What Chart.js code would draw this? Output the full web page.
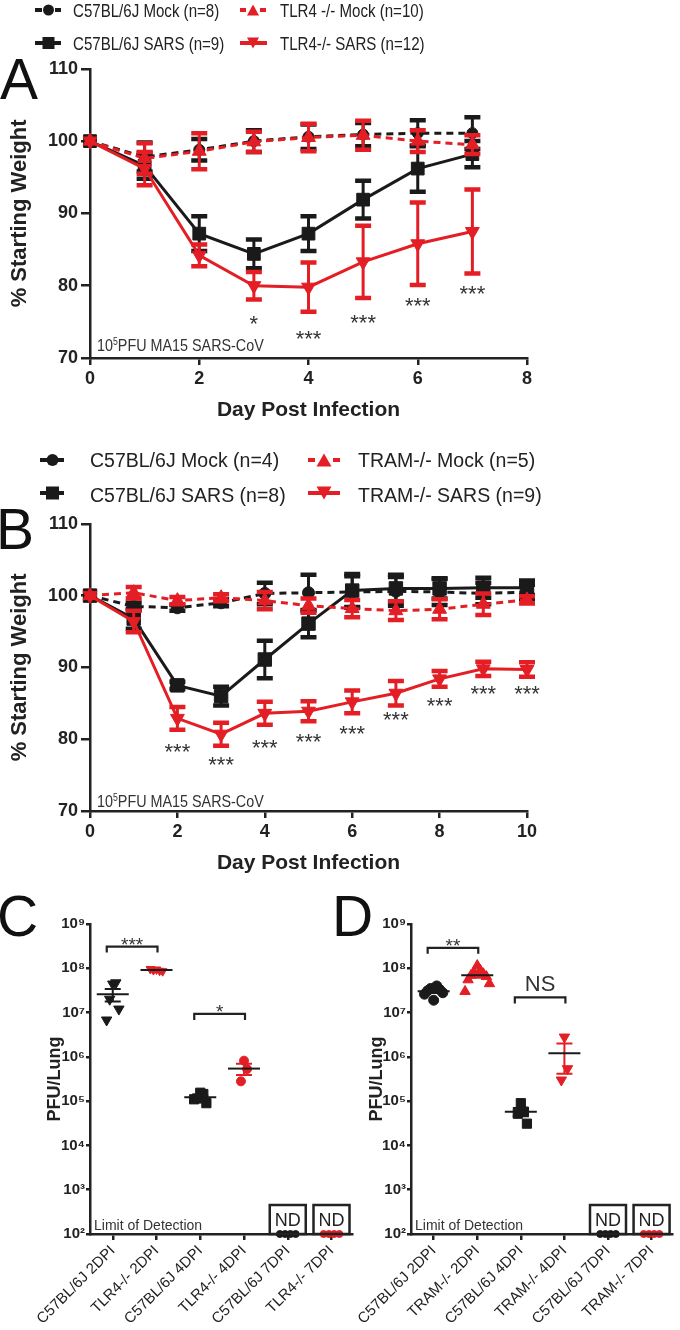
<!DOCTYPE html>
<html lang="en">
<head>
<meta charset="UTF-8">
<title>SARS-CoV weight loss and lung titer</title>
<script src="https://cdn.jsdelivr.net/npm/chart.js"></script>
<style>
  body { margin: 0; background: #fff; font-family: "Liberation Sans", Arial, sans-serif; color: #222; }
  #page { position: relative; width: 680px; height: 1330px; overflow: hidden; }
  canvas { position: absolute; }
  .txt { position: absolute; white-space: nowrap; }
  .legA { font-size: 18.5px; line-height: 20px; transform: scaleX(.815); transform-origin: 0 50%; }
  .legB { font-size: 19.5px; line-height: 20px; }
  .letter { font-size: 57px; line-height: 57px; color: #111; }
  .virus { font-size: 16.5px; line-height: 18px; transform: scaleX(.87); transform-origin: 0 50%; color: #333; }
  .virus sup { font-size: 10px; vertical-align: 6px; line-height: 0; }
  svg { position: absolute; left: 0; top: 0; }
</style>
</head>
<body>
<div id="page">
  <canvas id="chartA" width="580" height="375" style="left:0;top:55px"></canvas>
  <canvas id="chartB" width="580" height="373" style="left:0;top:510px"></canvas>
  <canvas id="chartC" width="360" height="430" style="left:0;top:900px"></canvas>
  <canvas id="chartD" width="350" height="430" style="left:330px;top:900px"></canvas>

  <!-- legend symbols -->
  <svg width="680" height="520">
    <g stroke="#1a1a1a" stroke-width="4">
      <line x1="35" y1="10" x2="42" y2="10"/><line x1="55" y1="10" x2="61" y2="10"/>
      <line x1="35" y1="43" x2="61" y2="43"/>
      <line x1="40" y1="460" x2="47" y2="460"/><line x1="58" y1="460" x2="64" y2="460"/>
      <line x1="40" y1="493" x2="64" y2="493"/>
    </g>
    <circle cx="48.5" cy="10" r="5.5" fill="#1a1a1a"/>
    <rect x="42.5" y="37" width="12" height="12" fill="#1a1a1a"/>
    <circle cx="52.5" cy="460" r="6" fill="#1a1a1a"/>
    <rect x="46" y="486.5" width="13" height="13" fill="#1a1a1a"/>
    <g stroke="#e31e24" stroke-width="4">
      <line x1="240" y1="10" x2="246" y2="10"/><line x1="260" y1="10" x2="266" y2="10"/>
      <line x1="240" y1="43" x2="267" y2="43"/>
      <line x1="308" y1="460" x2="315" y2="460"/><line x1="333" y1="460" x2="340" y2="460"/>
      <line x1="308" y1="493" x2="340" y2="493"/>
    </g>
    <g fill="#e31e24">
      <polygon points="247,15.5 259,15.5 253,4.5"/>
      <polygon points="247,37.5 259,37.5 253,48.5"/>
      <polygon points="316.5,466.5 331.5,466.5 324,453.5"/>
      <polygon points="316.5,486.5 331.5,486.5 324,499.5"/>
    </g>
  </svg>

  <div class="txt legA" style="left:73px;top:1px">C57BL/6J Mock (n=8)</div>
  <div class="txt legA" style="left:280px;top:1px">TLR4 -/- Mock (n=10)</div>
  <div class="txt legA" style="left:73px;top:34px">C57BL/6J SARS (n=9)</div>
  <div class="txt legA" style="left:280px;top:34px">TLR4-/- SARS (n=12)</div>

  <div class="txt legB" style="left:90px;top:450px">C57BL/6J Mock (n=4)</div>
  <div class="txt legB" style="left:358px;top:450px">TRAM-/- Mock (n=5)</div>
  <div class="txt legB" style="left:90px;top:485px">C57BL/6J SARS (n=8)</div>
  <div class="txt legB" style="left:358px;top:485px">TRAM-/- SARS (n=9)</div>

  <div class="txt letter" style="left:0;top:51px">A</div>
  <div class="txt letter" style="left:-4px;top:501px">B</div>
  <div class="txt letter" style="left:-3px;top:888px">C</div>
  <div class="txt letter" style="left:332px;top:888px">D</div>

  <div class="txt virus" style="left:97px;top:336px">10<sup>5</sup>PFU MA15 SARS-CoV</div>
  <div class="txt virus" style="left:97px;top:792px">10<sup>5</sup>PFU MA15 SARS-CoV</div>
</div>

<script>
  Chart.defaults.font.family = "'Liberation Sans', Arial, sans-serif";
  Chart.defaults.color = '#222';
  const RED = '#e31e24', BLACK = '#1a1a1a', AXIS = '#222';

  // ---- panel A: TLR4-/- weight loss ----
  const daysA = [0, 1, 2, 3, 4, 5, 6, 7];
  const dayTicksA = [0, 2, 4, 6, 8];
  const wtMockA = [100, 97.8, 98.8, 100.0, 100.6, 100.9, 101.1, 101.1];
  const wtMockErrA = [0, 2.0, 1.5, 1.5, 1.7, 1.6, 1.8, 2.2];
  const koMockA = [100, 97.6, 98.6, 99.9, 100.5, 100.8, 100.0, 99.5];
  const koMockErrA = [0, 2.1, 2.5, 1.4, 1.9, 2.0, 1.5, 1.3];
  const wtSarsA = [100, 96.6, 87.2, 84.4, 87.2, 91.9, 96.2, 98.2];
  const wtSarsErrA = [0, 1.8, 2.4, 2.0, 2.4, 2.6, 3.2, 1.8];
  const koSarsA = [100, 96.2, 84.2, 80.0, 79.8, 83.3, 85.8, 87.5];
  const koSarsErrA = [0, 2.3, 1.5, 1.9, 3.4, 5.0, 5.7, 5.8];
  const sigDaysA = [3, 4, 5, 6, 7];
  const sigTextA = ['*', '***', '***', '***', '***'];
  const sigYA = [75.2, 73.2, 75.4, 77.7, 79.4];

  // ---- panel B: TRAM-/- weight loss ----
  const daysB = [0, 1, 2, 3, 4, 5, 6, 7, 8, 9, 10];
  const dayTicksB = [0, 2, 4, 6, 8, 10];
  const wtMockB = [100, 98.5, 98.3, 99.0, 100.3, 100.4, 100.5, 100.6, 100.5, 100.3, 100.5];
  const wtMockErrB = [0, 0.5, 0.4, 0.5, 1.5, 2.5, 2.2, 2.0, 1.8, 1.5, 1.0];
  const koMockB = [100, 100.4, 99.3, 99.7, 99.3, 98.6, 98.2, 97.9, 98.1, 98.8, 99.4];
  const koMockErrB = [0, 0.8, 0.5, 0.5, 1.2, 1.0, 1.2, 1.3, 1.4, 1.5, 0.5];
  const wtSarsB = [100, 96.8, 87.5, 86.0, 91.1, 96.1, 100.7, 101.0, 101.0, 101.1, 101.1];
  const wtSarsErrB = [0, 1.4, 0.5, 1.3, 2.6, 1.9, 2.3, 1.9, 1.4, 1.4, 1.0];
  const koSarsB = [100, 96.4, 82.9, 80.7, 83.6, 83.9, 85.2, 86.4, 88.4, 89.8, 89.7];
  const koSarsErrB = [0, 1.5, 1.6, 1.6, 1.6, 1.4, 1.6, 1.7, 1.1, 1.0, 1.0];
  const sigDaysB = [2, 3, 4, 5, 6, 7, 8, 9, 10];
  const sigTextB = ['***', '***', '***', '***', '***', '***', '***', '***', '***'];
  const sigYB = [78.8, 77.0, 79.3, 80.1, 81.2, 83.2, 85.2, 86.9, 86.9];

  const weightTicks = [70, 80, 90, 100, 110];

  // ---- panel C: TLR4-/- lung titer ----
  const catsC = ['C57BL/6J 2DPI', 'TLR4-/- 2DPI', 'C57BL/6J 4DPI', 'TLR4-/- 4DPI', 'C57BL/6J 7DPI', 'TLR4-/- 7DPI'];
  const wt2C = [4.4e7, 4.7e7, 2.0e7, 1.2e7, 6.8e6];
  const ko2C = [9.4e7, 8.8e7, 9.1e7, 8.6e7, 9.6e7];
  const wt4C = [1.55e5, 1.45e5, 1.15e5, 9.0e4, 1.1e5];
  const ko4C = [8.2e5, 5.3e5, 2.8e5];
  const wt7C = [100, 100, 100, 100];
  const ko7C = [100, 100, 100, 100];
  const brFromC = [1, 3], brToC = [2, 4], brYC = [3.1e8, 9.3e6], brTextC = ['***', '*'];

  // ---- panel D: TRAM-/- lung titer ----
  const catsD = ['C57BL/6J 2DPI', 'TRAM-/- 2DPI', 'C57BL/6J 4DPI', 'TRAM-/- 4DPI', 'C57BL/6J 7DPI', 'TRAM-/- 7DPI'];
  const wt2D = [1.9e7, 4.0e7, 3.5e7, 3.3e7, 3.1e7, 2.8e7, 2.6e7];
  const ko2D = [1.15e8, 9.0e7, 8.0e7, 7.5e7, 7.0e7, 6.5e7, 5.5e7, 4.5e7, 3.0e7];
  const wt4D = [9.0e4, 5.8e4, 5.2e4, 3.1e4];
  const ko4D = [2.8e6, 5.4e5, 3.0e5];
  const wt7D = [100, 100, 100, 100];
  const ko7D = [100, 100, 100, 100];
  const brFromD = [1, 3], brToD = [2, 4], brYD = [2.9e8, 2.2e7], brTextD = ['**', 'NS'];

  const titerTicks = [1e2, 1e3, 1e4, 1e5, 1e6, 1e7, 1e8, 1e9];
  const titerLabels = ['10²', '10³', '10⁴', '10⁵', '10⁶', '10⁷', '10⁸', '10⁹'];
  const ndCats = [5, 6];

  // asterisks sit high in the em box, shift so the glyph centre lands on y
  function star(ctx, text, x, y, size) {
    ctx.font = size + "px 'Liberation Sans', Arial";
    ctx.textAlign = 'center';
    ctx.textBaseline = 'middle';
    ctx.fillText(text, x, y + (text === 'NS' ? 0 : 0.22 * size));
  }

  const errorBars = {
    id: 'errorBars',
    beforeDatasetDraw(chart, args) {
      const ds = chart.data.datasets[args.index];
      if (!ds.err) return;
      const y = chart.scales.y, ctx = chart.ctx;
      ctx.save();
      ctx.setLineDash([]);
      ctx.strokeStyle = ds.borderColor;
      args.meta.data.forEach((pt, i) => {
        const e = ds.err[i];
        if (!e) return;
        const v = ds.data[i].y;
        const top = y.getPixelForValue(v + e), bot = y.getPixelForValue(v - e);
        ctx.lineWidth = 3;
        ctx.beginPath(); ctx.moveTo(pt.x, top); ctx.lineTo(pt.x, bot); ctx.stroke();
        ctx.lineWidth = 4.5;
        ctx.beginPath();
        ctx.moveTo(pt.x - 8, top); ctx.lineTo(pt.x + 8, top);
        ctx.moveTo(pt.x - 8, bot); ctx.lineTo(pt.x + 8, bot);
        ctx.stroke();
      });
      ctx.restore();
    }
  };

  const sigMarks = {
    id: 'sigMarks',
    afterDatasetsDraw(chart, args, opts) {
      if (!opts.days) return;
      const {ctx, scales: {x, y}} = chart;
      ctx.save();
      ctx.fillStyle = '#333';
      opts.days.forEach((d, i) => star(ctx, opts.text[i], x.getPixelForValue(d), y.getPixelForValue(opts.y[i]), 22));
      ctx.restore();
    }
  };

  function weightChart(id, days, dayTicks, series, sig) {
    return new Chart(document.getElementById(id), {
      type: 'line',
      data: {
        datasets: series.map(s => ({
          label: s.label,
          data: days.map((d, i) => ({x: d, y: s.values[i]})),
          err: s.err,
          borderColor: s.color,
          backgroundColor: s.color,
          borderWidth: 3,
          borderDash: s.dash ? [7, 5] : [],
          pointStyle: s.marker,
          pointRadius: s.r,
          pointRotation: s.rot || 0,
          pointBackgroundColor: s.color,
          pointBorderColor: s.color,
          pointBorderWidth: 1,
          tension: 0,
          clip: false
        }))
      },
      options: {
        responsive: false,
        animation: false,
        layout: {padding: {top: 12, right: 53, bottom: 0, left: 0}},
        plugins: {legend: {display: false}, tooltip: {enabled: false}, sigMarks: sig},
        scales: {
          x: {
            type: 'linear', min: dayTicks[0], max: dayTicks[dayTicks.length - 1],
            afterBuildTicks: s => { s.ticks = dayTicks.map(v => ({value: v})); },
            afterFit: s => { s.height = 72; },
            ticks: {font: {weight: 'bold', size: 18}, color: AXIS, padding: 3},
            grid: {drawOnChartArea: false, color: AXIS, lineWidth: 2.5, tickLength: 7},
            border: {color: AXIS, width: 2.5},
            title: {display: true, text: 'Day Post Infection', color: AXIS,
                    font: {weight: 'bold', size: 21}, padding: {top: 0, bottom: 7}}
          },
          y: {
            min: 70, max: 110,
            afterBuildTicks: s => { s.ticks = weightTicks.map(v => ({value: v})); },
            afterFit: s => { s.width = 90; },
            ticks: {font: {weight: 'bold', size: 18}, color: AXIS, padding: 3},
            grid: {drawOnChartArea: false, color: AXIS, lineWidth: 2.5, tickLength: 9},
            border: {color: AXIS, width: 2.5},
            title: {display: true, text: '% Starting Weight', color: AXIS,
                    font: {weight: 'bold', size: 22}, padding: {top: 7, bottom: 0}}
          }
        }
      },
      plugins: [errorBars, sigMarks]
    });
  }

  weightChart('chartA', daysA, dayTicksA, [
    {label: 'TLR4-/- SARS (n=12)', values: koSarsA, err: koSarsErrA, color: RED, marker: 'triangle', rot: 180, r: 8},
    {label: 'TLR4 -/- Mock (n=10)', values: koMockA, err: koMockErrA, color: RED, dash: true, marker: 'triangle', r: 8},
    {label: 'C57BL/6J SARS (n=9)', values: wtSarsA, err: wtSarsErrA, color: BLACK, marker: 'rect', r: 9},
    {label: 'C57BL/6J Mock (n=8)', values: wtMockA, err: wtMockErrA, color: BLACK, dash: true, marker: 'circle', r: 5.5}
  ], {days: sigDaysA, text: sigTextA, y: sigYA});

  weightChart('chartB', daysB, dayTicksB, [
    {label: 'TRAM-/- SARS (n=9)', values: koSarsB, err: koSarsErrB, color: RED, marker: 'triangle', rot: 180, r: 8},
    {label: 'TRAM-/- Mock (n=5)', values: koMockB, err: koMockErrB, color: RED, dash: true, marker: 'triangle', r: 8},
    {label: 'C57BL/6J SARS (n=8)', values: wtSarsB, err: wtSarsErrB, color: BLACK, marker: 'rect', r: 9.5},
    {label: 'C57BL/6J Mock (n=4)', values: wtMockB, err: wtMockErrB, color: BLACK, dash: true, marker: 'circle', r: 6}
  ], {days: sigDaysB, text: sigTextB, y: sigYB});

  // mean line (black) and SEM whiskers (group colour) over each scatter column
  const meanSem = {
    id: 'meanSem',
    afterDatasetsDraw(chart) {
      const {ctx, scales: {x, y}} = chart;
      ctx.save();
      chart.data.datasets.forEach(ds => {
        if (!ds.stats) return;
        const v = ds.data.map(p => p.y), n = v.length;
        const mean = v.reduce((a, b) => a + b, 0) / n;
        const sd = Math.sqrt(v.reduce((a, b) => a + (b - mean) ** 2, 0) / (n - 1));
        const sem = sd / Math.sqrt(n);
        const cx = x.getPixelForValue(ds.cat);
        const pm = y.getPixelForValue(mean), pt = y.getPixelForValue(mean + sem), pb = y.getPixelForValue(mean - sem);
        ctx.strokeStyle = ds.color; ctx.lineWidth = 2;
        ctx.beginPath();
        ctx.moveTo(cx, pt); ctx.lineTo(cx, pb);
        ctx.moveTo(cx - 8, pt); ctx.lineTo(cx + 8, pt);
        ctx.moveTo(cx - 8, pb); ctx.lineTo(cx + 8, pb);
        ctx.stroke();
        ctx.strokeStyle = BLACK; ctx.lineWidth = 2;
        ctx.beginPath(); ctx.moveTo(cx - 16, pm); ctx.lineTo(cx + 16, pm); ctx.stroke();
      });
      ctx.restore();
    }
  };

  const lungMarks = {
    id: 'lungMarks',
    afterDatasetsDraw(chart, args, opts) {
      const {ctx, chartArea, scales: {x, y}} = chart;
      ctx.save();
      // significance brackets
      ctx.strokeStyle = AXIS; ctx.fillStyle = '#333'; ctx.lineWidth = 2.2;
      opts.from.forEach((f, i) => {
        const x1 = x.getPixelForValue(f) - 6, x2 = x.getPixelForValue(opts.to[i]) + 1;
        const py = y.getPixelForValue(opts.y[i]);
        ctx.beginPath();
        ctx.moveTo(x1, py + 6); ctx.lineTo(x1, py); ctx.lineTo(x2, py); ctx.lineTo(x2, py + 6);
        ctx.stroke();
        if (opts.text[i] === 'NS') star(ctx, 'NS', (x1 + x2) / 2, py - 12, 22);
        else star(ctx, opts.text[i], (x1 + x2) / 2, py - 5, 19);
      });
      // not-detected boxes
      ctx.lineWidth = 2.5; ctx.fillStyle = AXIS;
      ndCats.forEach(c => {
        const cx = x.getPixelForValue(c), b = chartArea.bottom;
        ctx.strokeRect(cx - 18, b - 29, 36, 29);
        ctx.font = "18px 'Liberation Sans', Arial";
        ctx.textAlign = 'center'; ctx.textBaseline = 'middle';
        ctx.fillText('ND', cx, b - 13);
      });
      ctx.font = "14px 'Liberation Sans', Arial";
      ctx.fillStyle = '#333'; ctx.textAlign = 'left'; ctx.textBaseline = 'alphabetic';
      ctx.fillText('Limit of Detection', chartArea.left + 4, chartArea.bottom - 4);
      ctx.restore();
    }
  };

  function spread(j, n, nd) {
    if (nd) return (j - (n - 1) / 2) * 0.12;
    return Math.ceil(j / 2) * (j % 2 ? 1 : -1) * 0.07;
  }

  function lungChart(id, cats, groups, br, yW, titlePad, xMin, padRight) {
    return new Chart(document.getElementById(id), {
      type: 'scatter',
      data: {
        datasets: groups.map((g, k) => ({
          data: g.values.map((v, j) => ({x: k + 1 + spread(j, g.values.length, g.nd), y: v})),
          cat: k + 1,
          stats: !g.nd,
          color: g.color,
          pointStyle: g.marker,
          pointRotation: g.rot || 0,
          pointRadius: g.r,
          pointBackgroundColor: g.color,
          pointBorderColor: g.color,
          pointBorderWidth: 1,
          clip: false
        }))
      },
      options: {
        responsive: false,
        animation: false,
        layout: {padding: {top: 24, right: padRight, bottom: 0, left: 0}},
        plugins: {legend: {display: false}, tooltip: {enabled: false}, lungMarks: br},
        scales: {
          x: {
            type: 'linear', min: xMin, max: xMin + 6,
            afterBuildTicks: s => { s.ticks = cats.map((c, i) => ({value: i + 1})); },
            afterFit: s => { s.height = 96; },
            ticks: {callback: v => cats[Math.round(v) - 1], autoSkip: false, minRotation: 45, maxRotation: 45,
                    font: {size: 15}, color: AXIS, padding: 2},
            grid: {drawOnChartArea: false, color: AXIS, lineWidth: 2.5, tickLength: 6},
            border: {color: AXIS, width: 2.5}
          },
          y: {
            type: 'logarithmic', min: 1e2, max: 1e9,
            afterBuildTicks: s => { s.ticks = titerTicks.map(v => ({value: v})); },
            afterFit: s => { s.width = yW; },
            ticks: {callback: v => titerLabels[titerTicks.findIndex(t => Math.abs(t - v) < t * 1e-6)],
                    autoSkip: false, font: {weight: 'bold', size: 15}, color: AXIS, padding: 1},
            grid: {drawOnChartArea: false, color: AXIS, lineWidth: 2.5, tickLength: 4},
            border: {color: AXIS, width: 2.5},
            title: {display: true, text: 'PFU/Lung', color: AXIS, font: {weight: 'bold', size: 18},
                    padding: {top: titlePad, bottom: 0}}
          }
        }
      },
      plugins: [meanSem, lungMarks]
    });
  }

  lungChart('chartC', catsC, [
    {values: wt2C, color: BLACK, marker: 'triangle', rot: 180, r: 6},
    {values: ko2C, color: RED, marker: 'triangle', rot: 180, r: 5},
    {values: wt4C, color: BLACK, marker: 'rect', r: 6.5},
    {values: ko4C, color: RED, marker: 'circle', r: 4.5},
    {values: wt7C, color: BLACK, marker: 'circle', r: 3.5, nd: true},
    {values: ko7C, color: RED, marker: 'circle', r: 3.5, nd: true}
  ], {from: brFromC, to: brToC, y: brYC, text: brTextC}, 90, 44, 0.48, 5);

  lungChart('chartD', catsD, [
    {values: wt2D, color: BLACK, marker: 'circle', r: 5},
    {values: ko2D, color: RED, marker: 'triangle', r: 6},
    {values: wt4D, color: BLACK, marker: 'rect', r: 6.5},
    {values: ko4D, color: RED, marker: 'triangle', rot: 180, r: 6},
    {values: wt7D, color: BLACK, marker: 'circle', r: 3.5, nd: true},
    {values: ko7D, color: RED, marker: 'circle', r: 3.5, nd: true}
  ], {from: brFromD, to: brToD, y: brYD, text: brTextD}, 81, 36, 0.48, 2);
</script>
</body>
</html>
